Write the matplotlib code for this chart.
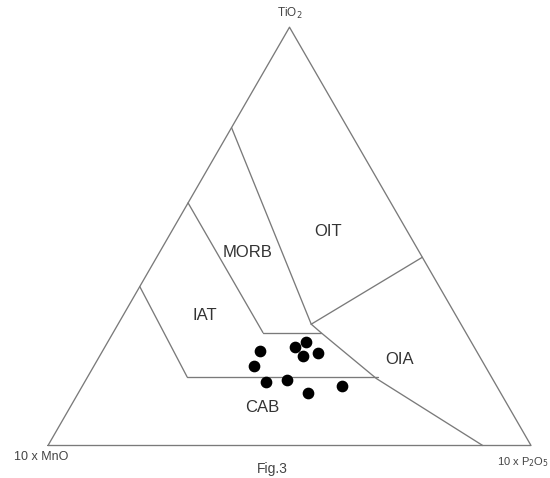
import numpy as np
import matplotlib
matplotlib.use("Agg")
from matplotlib import pyplot as plt

plt.rcParams['font.family'] = ['Liberation Sans', 'DejaVu Sans']

# ternary (10xMnO, TiO2, 10xP2O5) fractions
# field boundaries
morb_oit = [(0.24, 0.76, 0.00), (0.31, 0.29, 0.40)]
oit_oia = [(0.31, 0.29, 0.40), (0.00, 0.45, 0.55)]
iat_morb = [(0.42, 0.58, 0.00), (0.42, 0.27, 0.31)]
upper_flat = [(0.42, 0.27, 0.31), (0.30, 0.27, 0.43)]
oia_cab = [(0.31, 0.29, 0.40), (0.30, 0.27, 0.43), (0.24, 0.16, 0.60), (0.10, 0.00, 0.90)]
iat_cab = [(0.62, 0.38, 0.00), (0.63, 0.164, 0.206)]
lower_flat = [(0.63, 0.164, 0.206), (0.235, 0.164, 0.601)]

# samples
mno = [0.448, 0.342, 0.371, 0.365, 0.331, 0.478, 0.473, 0.426, 0.399, 0.320]
tio2 = [0.226, 0.248, 0.236, 0.214, 0.221, 0.190, 0.152, 0.157, 0.126, 0.142]
p2o5 = [0.326, 0.410, 0.393, 0.421, 0.448, 0.332, 0.375, 0.417, 0.475, 0.538]

field_names = ["OIT", "MORB", "IAT", "OIA", "CAB"]
field_pos = [(0.164, 0.511, 0.325), (0.357, 0.461, 0.182), (0.52, 0.31, 0.17),
             (0.17, 0.205, 0.625), (0.51, 0.092, 0.398)]


def xy(m, t, p):
    t = np.asarray(t, dtype=float)
    p = np.asarray(p, dtype=float)
    return p + t / 2, t * np.sqrt(3) / 2


fig = plt.figure(figsize=(5.5, 4.78), dpi=100)
ax = fig.add_axes([0, 0, 1, 1])
ax.set_xlim(-48 / 483, 502 / 483)
ax.set_ylim(-32.5 / 483, 445.5 / 483)
ax.axis('off')

lc = '#7a7a7a'
lw = 0.95
tri = [(1, 0, 0), (0, 1, 0), (0, 0, 1), (1, 0, 0)]
for seg in [tri, morb_oit, oit_oia, iat_morb, upper_flat, oia_cab, iat_cab, lower_flat]:
    m, t, p = zip(*seg)
    x, y = xy(m, t, p)
    ax.plot(x, y, '-', color=lc, linewidth=lw, solid_capstyle='round')

for name, (m, t, p) in zip(field_names, field_pos):
    x, y = xy(m, t, p)
    ax.text(x, y, name, fontsize=12, color='#333333', ha='center', va='center')

x, y = xy(mno, tio2, p2o5)
ax.scatter(x, y, s=55, color='black', zorder=3)

ax.text(0.5, np.sqrt(3) / 2 + 0.012, "TiO$_2$", fontsize=8.5, color='#444444', ha='center', va='bottom')
ax.text(-0.07, -0.024, "10 x MnO", fontsize=9, color='#444444', ha='left', va='center')
ax.text(1.037, -0.034, "10 x P$_2$O$_5$", fontsize=8, color='#444444', ha='right', va='center')
ax.text(0.464, -0.049, "Fig.3", fontsize=10, color='#444444', ha='center', va='center')

fig.savefig("out.png", dpi=100)
